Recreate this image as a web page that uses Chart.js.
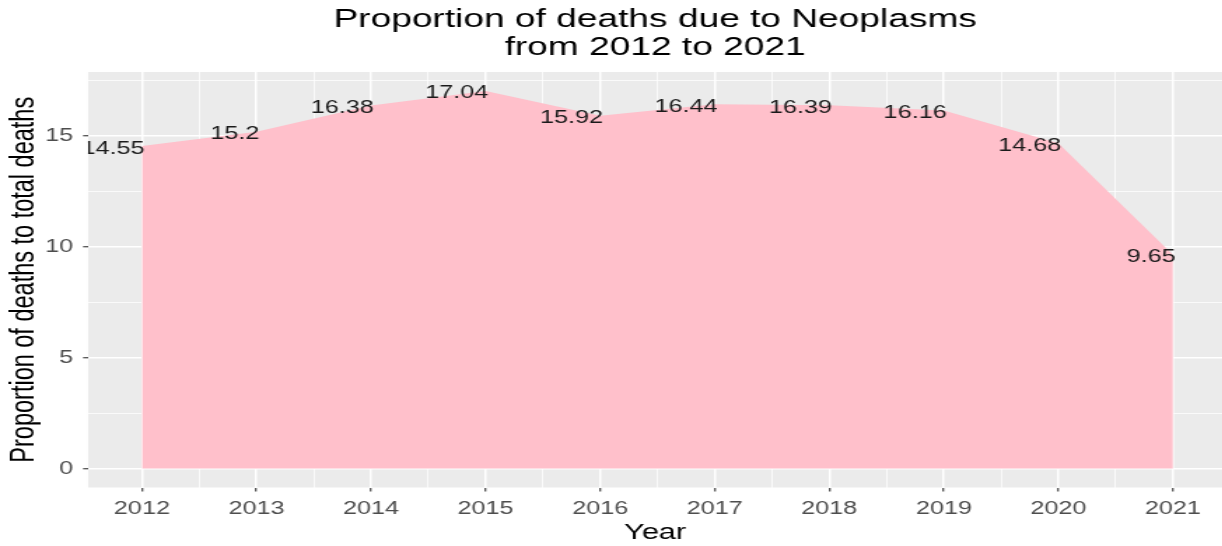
<!DOCTYPE html>
<html>
<head>
<meta charset="utf-8">
<script src="https://cdn.jsdelivr.net/npm/chart.js@4/dist/chart.umd.min.js"></script>
<style>
  html, body { margin: 0; padding: 0; background: #ffffff; overflow: hidden; }
  #wrap { width: 1222px; height: 546px; overflow: hidden; }
  /* the chart is laid out narrow and widened horizontally */
  #plot { display: block; transform: scaleX(1.4); transform-origin: 0 0; }
</style>
</head>
<body>
<div id="wrap"><canvas id="plot" width="873" height="546"></canvas></div>
<script>
// Share of all deaths caused by neoplasms, per year (%)
const years = [2012, 2013, 2014, 2015, 2016, 2017, 2018, 2019, 2020, 2021];
const proportion = [14.55, 15.2, 16.38, 17.04, 15.92, 16.44, 16.39, 16.16, 14.68, 9.65];

// Axis breaks: labelled majors plus the half-way minor lines
const xTickLabels = ['2012', '2013', '2014', '2015', '2016', '2017', '2018', '2019', '2020', '2021'];
const xBreaks = [2012, 2012.5, 2013, 2013.5, 2014, 2014.5, 2015, 2015.5, 2016, 2016.5,
                 2017, 2017.5, 2018, 2018.5, 2019, 2019.5, 2020, 2020.5, 2021];
const yMajor = [0, 5, 10, 15];
const yTickLabels = ['0', '5', '10', '15'];
const yBreaks = [0, 2.5, 5, 7.5, 10, 12.5, 15, 17.5];

const FONT = "'Liberation Sans', Arial, Helvetica, sans-serif";
const PANEL_BG = '#EBEBEB';
const AREA_FILL = '#FFC0CB';

const isXMajor = v => years.includes(v);
const isYMajor = v => yMajor.includes(v);

// grey panel behind the grid
const panelBackground = {
  id: 'panelBackground',
  beforeDraw(chart) {
    const { ctx, chartArea: a } = chart;
    ctx.save();
    ctx.fillStyle = PANEL_BG;
    ctx.fillRect(a.left, a.top, a.right - a.left, a.bottom - a.top);
    ctx.restore();
  }
};

// value text next to every point, clipped to the panel
const valueLabels = {
  id: 'valueLabels',
  afterDatasetsDraw(chart) {
    const { ctx, chartArea: a } = chart;
    const meta = chart.getDatasetMeta(0);
    ctx.save();
    ctx.beginPath();
    ctx.rect(a.left, a.top, a.right - a.left, a.bottom - a.top);
    ctx.clip();
    ctx.font = '18px ' + FONT;
    ctx.fillStyle = '#1a1a1a';
    ctx.textAlign = 'right';
    ctx.textBaseline = 'middle';
    meta.data.forEach((pt, i) => {
      ctx.fillText(String(proportion[i]), pt.x + 2, pt.y + 2.5);
    });
    ctx.restore();
  }
};

new Chart(document.getElementById('plot'), {
  type: 'line',
  data: {
    datasets: [{
      data: years.map((y, i) => ({ x: y, y: proportion[i] })),
      fill: 'origin',
      backgroundColor: AREA_FILL,
      borderWidth: 0,
      borderColor: 'rgba(0,0,0,0)',
      pointRadius: 0,
      pointHoverRadius: 0,
      tension: 0
    }]
  },
  options: {
    responsive: false,
    animation: false,
    events: [],
    layout: { padding: 0 },
    plugins: {
      legend: { display: false },
      tooltip: { enabled: false },
      title: {
        display: true,
        fullSize: false,
        text: ['Proportion of deaths due to Neoplasms', 'from 2012 to 2021'],
        color: '#000000',
        font: { family: FONT, size: 26.5, weight: 'normal', lineHeight: 28 / 26.5 },
        padding: { top: 6, bottom: 10 }
      }
    },
    scales: {
      x: {
        type: 'linear',
        position: 'bottom',
        min: 2011.53,
        max: 2021.43,
        afterBuildTicks: s => { s.ticks = xBreaks.map(v => ({ value: v })); },
        border: { display: false },
        grid: {
          color: '#FFFFFF',
          lineWidth: c => (c.tick && isXMajor(c.tick.value)) ? 1.5 : 0.75,
          drawTicks: true,
          tickLength: 4,
          tickColor: c => (c.tick && isXMajor(c.tick.value)) ? '#333333' : 'rgba(0,0,0,0)',
          tickWidth: 1.1
        },
        ticks: {
          autoSkip: false,
          maxRotation: 0,
          minRotation: 0,
          padding: 6.5,
          color: '#4D4D4D',
          font: { family: FONT, size: 18 },
          callback: v => { const i = years.indexOf(v); return i >= 0 ? xTickLabels[i] : ''; }
        },
        title: {
          display: true,
          text: 'Year',
          color: '#000000',
          font: { family: FONT, size: 22, lineHeight: 16 / 22 },
          padding: { top: -1.1, bottom: 5 }
        }
      },
      y: {
        type: 'linear',
        min: -0.852,
        max: 17.892,
        afterBuildTicks: s => { s.ticks = yBreaks.map(v => ({ value: v })); },
        border: { display: false },
        grid: {
          color: '#FFFFFF',
          lineWidth: c => (c.tick && isYMajor(c.tick.value)) ? 1.5 : 0.75,
          drawTicks: true,
          tickLength: 3.6,
          tickColor: c => (c.tick && isYMajor(c.tick.value)) ? '#333333' : 'rgba(0,0,0,0)',
          tickWidth: 1.1
        },
        ticks: {
          autoSkip: false,
          padding: 7,
          color: '#4D4D4D',
          font: { family: FONT, size: 18 },
          callback: v => { const i = yMajor.indexOf(v); return i >= 0 ? yTickLabels[i] : ''; }
        },
        title: {
          display: true,
          text: 'Proportion of deaths to total deaths',
          color: '#000000',
          font: { family: FONT, size: 23.5, lineHeight: 15.8 / 23.5 },
          padding: { top: 9.5, bottom: 0 }
        }
      }
    }
  },
  plugins: [panelBackground, valueLabels]
});
</script>
</body>
</html>
